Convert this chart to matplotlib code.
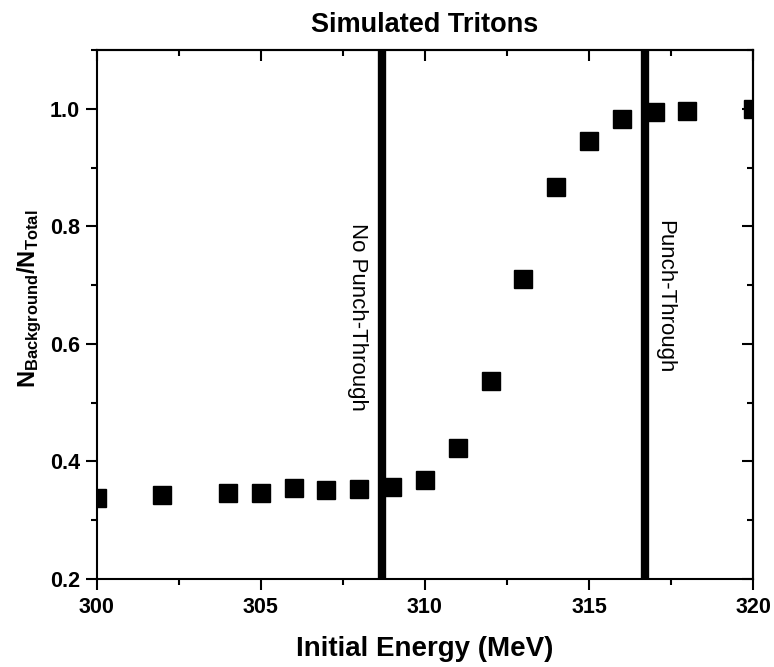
import matplotlib
matplotlib.use("Agg")
import matplotlib.pyplot as plt
from matplotlib.ticker import MultipleLocator

plt.rcParams['font.family'] = ['Liberation Sans', 'DejaVu Sans']
plt.rcParams['mathtext.fontset'] = 'custom'
plt.rcParams['mathtext.rm'] = 'Liberation Sans:bold'
plt.rcParams['mathtext.bf'] = 'Liberation Sans:bold'
plt.rcParams['mathtext.it'] = 'Liberation Sans:bold'

energy = [300, 302, 304, 305, 306, 307, 308, 309, 310, 311, 312, 313, 314, 315, 316, 317, 318, 320]
ratio = [0.338, 0.343, 0.347, 0.346, 0.355, 0.351, 0.353, 0.356, 0.368, 0.422, 0.537, 0.711, 0.867, 0.946, 0.983, 0.994, 0.997, 0.999]
threshold_low = 308.7
threshold_high = 316.7
title = "Simulated Tritons"
xlabel = "Initial Energy (MeV)"
ylabel = r"N$_{Background}$/N$_{Total}$"
label_low = "No Punch-Through"
label_high = "Punch-Through"

fig = plt.figure(figsize=(7.74, 6.67), dpi=100)
ax = fig.add_axes([0.125, 0.132, 0.848, 0.793])

ax.plot(energy, ratio, linestyle='none', marker='s', markersize=13.5,
        color='black', clip_on=True, zorder=3)
ax.axvline(threshold_low, color='black', linewidth=6, zorder=2)
ax.axvline(threshold_high, color='black', linewidth=6, zorder=2)

ax.text(307.95, 0.645, label_low, rotation=-90, ha='center', va='center', fontsize=16)
ax.text(317.3, 0.68, label_high, rotation=-90, ha='center', va='center', fontsize=16)

ax.set_xlim(300, 320)
ax.set_ylim(0.2, 1.1)
ax.xaxis.set_major_locator(MultipleLocator(5))
ax.xaxis.set_minor_locator(MultipleLocator(2.5))
ax.yaxis.set_major_locator(MultipleLocator(0.2))
ax.yaxis.set_minor_locator(MultipleLocator(0.1))
ax.yaxis.set_major_formatter(matplotlib.ticker.FormatStrFormatter('%.1f'))

for s in ax.spines.values():
    s.set_linewidth(1.5)

ax.tick_params(which='both', direction='out', width=1.5, top=False, right=False)
ax.tick_params(which='major', length=8, labelsize=15.5)
ax.tick_params(axis='x', which='major', pad=5)
ax.tick_params(axis='y', which='major', pad=4)
ax.tick_params(which='minor', length=4)
for lab in ax.get_xticklabels() + ax.get_yticklabels():
    lab.set_fontweight('bold')

# inward ticks on top and right
axt = ax.secondary_xaxis('top')
axt.xaxis.set_major_locator(MultipleLocator(5))
axt.xaxis.set_minor_locator(MultipleLocator(2.5))
axt.tick_params(which='both', direction='in', width=1.5, labeltop=False)
axt.tick_params(which='major', length=8)
axt.tick_params(which='minor', length=4)
axt.spines['top'].set_linewidth(1.5)
axr = ax.secondary_yaxis('right')
axr.yaxis.set_major_locator(MultipleLocator(0.2))
axr.yaxis.set_minor_locator(MultipleLocator(0.1))
axr.tick_params(which='both', direction='in', width=1.5, labelright=False)
axr.tick_params(which='major', length=8)
axr.tick_params(which='minor', length=4)
axr.spines['right'].set_linewidth(1.5)

ax.set_title(title, fontsize=19.5, fontweight='bold', pad=13)
ax.set_xlabel(xlabel, fontsize=20, fontweight='bold', labelpad=13)
ax.set_ylabel(ylabel, fontsize=17, fontweight='bold', labelpad=5)
ax.yaxis.set_label_coords(-0.08, 0.53)

fig.savefig("out.png", dpi=100)
